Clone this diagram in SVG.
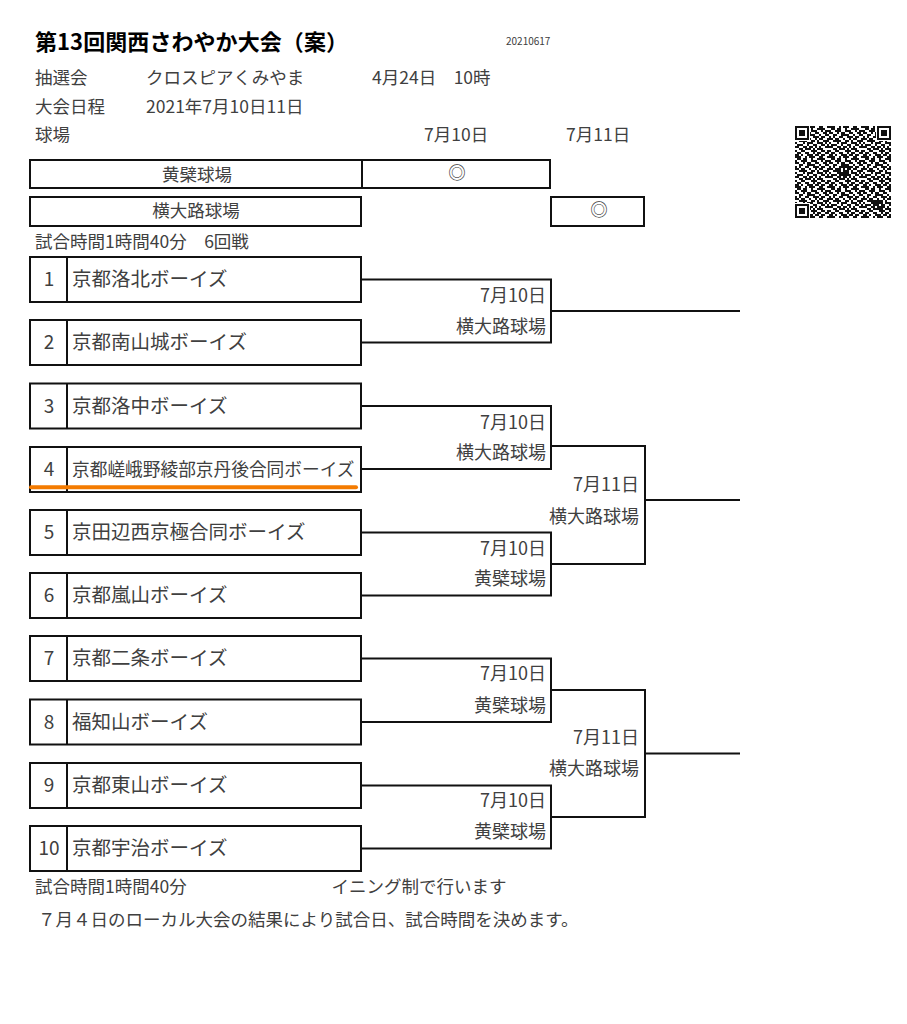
<svg xmlns="http://www.w3.org/2000/svg" width="907" height="1024" viewBox="0 0 907 1024">
<style>
text{font-family:"Noto Sans CJK JP","Noto Sans",sans-serif;fill:#404040}
.t{font-size:17.5px}
.title{font-size:22px;font-weight:bold;fill:#000}
.small{font-size:10px}
.box{fill:#fff;stroke:#111;stroke-width:2}
.ln{stroke:#111;stroke-width:2;fill:none}
.num{font-size:19px;text-anchor:middle}
.team{font-size:19.5px}
.lbl{font-size:18px;text-anchor:end}
.mid{text-anchor:middle}
</style>
<defs>
<pattern id="qrp" patternUnits="userSpaceOnUse" width="17" height="15">
<path fill="#111" d="M0 0h3v1h-3zM5 0h1v1h-1zM7 0h3v1h-3zM12 0h2v1h-2zM16 0h1v1h-1zM1 1h2v1h-2zM4 1h2v1h-2zM8 1h1v1h-1zM11 1h4v1h-4zM0 2h1v1h-1zM3 2h3v1h-3zM8 2h3v1h-3zM13 2h1v1h-1zM15 2h2v1h-2zM0 3h2v1h-2zM4 3h1v1h-1zM6 3h2v1h-2zM10 3h2v1h-2zM14 3h2v1h-2zM2 4h2v1h-2zM6 4h4v1h-4zM12 4h1v1h-1zM15 4h2v1h-2zM0 5h1v1h-1zM2 5h1v1h-1zM5 5h2v1h-2zM9 5h3v1h-3zM13 5h2v1h-2zM0 6h2v1h-2zM3 6h2v1h-2zM7 6h1v1h-1zM10 6h1v1h-1zM12 6h2v1h-2zM16 6h1v1h-1zM2 7h4v1h-4zM8 7h2v1h-2zM11 7h1v1h-1zM14 7h3v1h-3zM0 8h1v1h-1zM4 8h1v1h-1zM6 8h3v1h-3zM11 8h3v1h-3zM15 8h1v1h-1zM1 9h3v1h-3zM6 9h1v1h-1zM9 9h2v1h-2zM13 9h2v1h-2zM16 9h1v1h-1zM0 10h2v1h-2zM4 10h2v1h-2zM7 10h2v1h-2zM10 10h1v1h-1zM12 10h1v1h-1zM15 10h2v1h-2zM2 11h2v1h-2zM5 11h3v1h-3zM9 11h1v1h-1zM11 11h3v1h-3zM0 12h1v1h-1zM3 12h2v1h-2zM8 12h3v1h-3zM13 12h2v1h-2zM16 12h1v1h-1zM1 13h2v1h-2zM5 13h2v1h-2zM9 13h1v1h-1zM11 13h2v1h-2zM15 13h2v1h-2zM0 14h2v1h-2zM3 14h1v1h-1zM6 14h3v1h-3zM10 14h2v1h-2zM13 14h2v1h-2z"/>
</pattern>
<g id="finder">
<rect x="-0.5" y="-0.5" width="8" height="8" fill="#fff"/>
<path fill="#111" fill-rule="evenodd" d="M0 0h7v7h-7zM1 1v5h5v-5zM2 2h3v3h-3z"/>
</g>
<g id="align">
<path fill="#111" fill-rule="evenodd" d="M0 0h5v5h-5zM1 1v3h3v-3zM2 2h1v1h-1z"/>
</g>
</defs>

<rect width="907" height="1024" fill="#fff"/>

<g id="header">
<text class="title" x="35" y="50" textLength="313">第13回関西さわやか大会（案）</text>
<text class="small" x="506" y="45">20210617</text>
<text class="t" x="35" y="83.5">抽選会</text>
<text class="t" x="146" y="83.5">クロスピアくみやま</text>
<text class="t" x="372" y="83.5">4月24日　10時</text>
<text class="t" x="35" y="112.5">大会日程</text>
<text class="t" x="146" y="112.5">2021年7月10日11日</text>
<text class="t" x="35" y="141">球場</text>
<text class="t" x="424" y="141">7月10日</text>
<text class="t" x="566" y="141">7月11日</text>
</g>

<g id="qr" transform="translate(795,126) scale(2)" shape-rendering="crispEdges">
<rect x="0" y="0" width="48" height="46" fill="url(#qrp)"/>
<use href="#finder" x="0" y="0"/>
<use href="#finder" x="41" y="0"/>
<use href="#finder" x="0" y="39"/>
<use href="#align" x="22" y="20"/>
<use href="#align" x="39" y="37"/>
</g>

<g id="venues">
<g id="venue-obaku">
<rect class="box" x="30" y="160" width="520" height="28"/>
<line class="ln" x1="362" y1="160" x2="362" y2="188"/>
<text class="t mid" x="197" y="180.5">黄檗球場</text>
<text class="t mid" x="457" y="178.5">◎</text>
</g>
<g id="venue-yokooji">
<rect class="box" x="30" y="197" width="331" height="29"/>
<rect class="box" x="551" y="197" width="93" height="29"/>
<text class="t mid" x="196" y="216.5">横大路球場</text>
<text class="t mid" x="599" y="215.5">◎</text>
</g>
</g>
<text class="t" x="35" y="248">試合時間1時間40分　6回戦</text>

<g id="connectors">
<path class="ln" d="M362 279.5H551V342.5H362M550 311H740"/>
<path class="ln" d="M362 406H551V469H362M550 446H645"/>
<path class="ln" d="M362 532.5H551V595.5H362M550 564H645"/>
<path class="ln" d="M645 445V565M645 500H740"/>
<path class="ln" d="M362 658.5H551V722H362M550 690H645"/>
<path class="ln" d="M362 785.5H551V848.5H362M550 817H645"/>
<path class="ln" d="M645 689V818M645 753.5H740"/>
<g id="match-labels">
<text class="lbl" x="546" y="302">7月10日</text>
<text class="lbl" x="546" y="333">横大路球場</text>
<text class="lbl" x="546" y="428.5">7月10日</text>
<text class="lbl" x="546" y="459">横大路球場</text>
<text class="lbl" x="546" y="554.5">7月10日</text>
<text class="lbl" x="546" y="585">黄檗球場</text>
<text class="lbl" x="546" y="680">7月10日</text>
<text class="lbl" x="546" y="712">黄檗球場</text>
<text class="lbl" x="546" y="807">7月10日</text>
<text class="lbl" x="546" y="838">黄檗球場</text>
<text class="lbl" x="639" y="491">7月11日</text>
<text class="lbl" x="639" y="522.5">横大路球場</text>
<text class="lbl" x="639" y="743.5">7月11日</text>
<text class="lbl" x="639" y="775">横大路球場</text>
</g>
</g>

<g id="team-1" transform="translate(0,256)">
<rect class="box" x="30" y="1" width="331" height="45"/><line class="ln" x1="67" y1="1" x2="67" y2="46"/>
<text class="num" x="49" y="30">1</text><text class="team" x="72" y="30">京都洛北ボーイズ</text>
</g>
<g id="team-2" transform="translate(0,319)">
<rect class="box" x="30" y="1" width="331" height="45"/><line class="ln" x1="67" y1="1" x2="67" y2="46"/>
<text class="num" x="49" y="30">2</text><text class="team" x="72" y="30">京都南山城ボーイズ</text>
</g>
<g id="team-3" transform="translate(0,382.5)">
<rect class="box" x="30" y="1" width="331" height="45"/><line class="ln" x1="67" y1="1" x2="67" y2="46"/>
<text class="num" x="49" y="30">3</text><text class="team" x="72" y="30">京都洛中ボーイズ</text>
</g>
<g id="team-4" transform="translate(0,446)">
<rect class="box" x="30" y="1" width="331" height="45"/><line class="ln" x1="67" y1="1" x2="67" y2="46"/>
<text class="num" x="49" y="30">4</text><text class="team" x="72" y="29.5" style="font-size:17.7px">京都嵯峨野綾部京丹後合同ボーイズ</text>
<line x1="31" y1="41.3" x2="356" y2="41.3" stroke="#f47b00" stroke-width="4" stroke-linecap="round"/>
</g>
<g id="team-5" transform="translate(0,509)">
<rect class="box" x="30" y="1" width="331" height="45"/><line class="ln" x1="67" y1="1" x2="67" y2="46"/>
<text class="num" x="49" y="30">5</text><text class="team" x="72" y="30">京田辺西京極合同ボーイズ</text>
</g>
<g id="team-6" transform="translate(0,572)">
<rect class="box" x="30" y="1" width="331" height="45"/><line class="ln" x1="67" y1="1" x2="67" y2="46"/>
<text class="num" x="49" y="30">6</text><text class="team" x="72" y="30">京都嵐山ボーイズ</text>
</g>
<g id="team-7" transform="translate(0,635)">
<rect class="box" x="30" y="1" width="331" height="45"/><line class="ln" x1="67" y1="1" x2="67" y2="46"/>
<text class="num" x="49" y="30">7</text><text class="team" x="72" y="30">京都二条ボーイズ</text>
</g>
<g id="team-8" transform="translate(0,698.5)">
<rect class="box" x="30" y="1" width="331" height="45"/><line class="ln" x1="67" y1="1" x2="67" y2="46"/>
<text class="num" x="49" y="30">8</text><text class="team" x="72" y="30">福知山ボーイズ</text>
</g>
<g id="team-9" transform="translate(0,762)">
<rect class="box" x="30" y="1" width="331" height="45"/><line class="ln" x1="67" y1="1" x2="67" y2="46"/>
<text class="num" x="49" y="30">9</text><text class="team" x="72" y="30">京都東山ボーイズ</text>
</g>
<g id="team-10" transform="translate(0,825)">
<rect class="box" x="30" y="1" width="331" height="45"/><line class="ln" x1="67" y1="1" x2="67" y2="46"/>
<text class="num" x="49" y="30">10</text><text class="team" x="72" y="30">京都宇治ボーイズ</text>
</g>

<g id="footer">
<text class="t" x="35" y="893">試合時間1時間40分</text>
<text class="t" x="331.5" y="893">イニング制で行います</text>
<text class="t" x="38" y="925.5">７月４日のローカル大会の結果により試合日、試合時間を決めます。</text>
</g>
</svg>
